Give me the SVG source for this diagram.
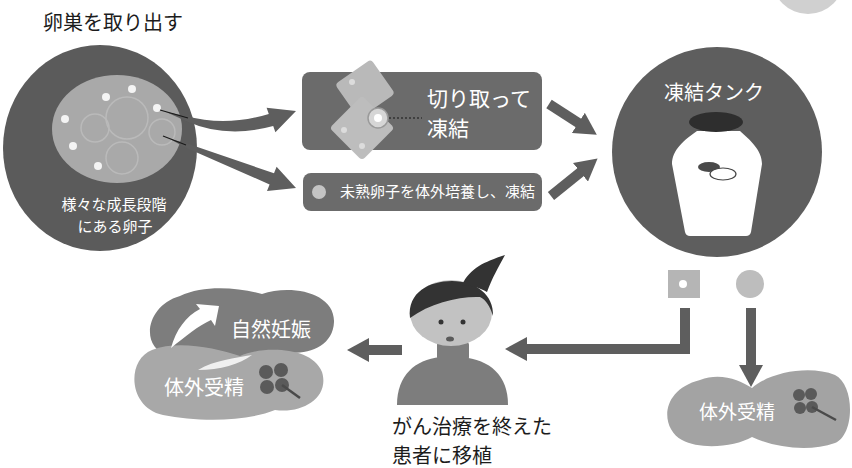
<svg xmlns="http://www.w3.org/2000/svg" width="852" height="468" viewBox="0 0 852 468">
  <style>
    .jp { font-family: "Noto Sans CJK JP", "Noto Sans CJK SC", "Noto Sans", sans-serif; }
    .dark { fill: #1c1c1c; }
    .white { fill: #ffffff; }
    .arrow { fill: none; stroke: #5e5e5e; stroke-width: 10; }
    .clover { fill: #5a5a5a; }
  </style>
  <defs>
    <marker id="head" markerUnits="userSpaceOnUse" markerWidth="22" markerHeight="24" viewBox="0 0 22 24" refX="2" refY="12" orient="auto">
      <path d="M0,0 L22,12 L0,24 Z" fill="#5e5e5e"/>
    </marker>
  </defs>

  <rect width="852" height="468" fill="#ffffff"/>

  <!-- corner decoration -->
  <circle cx="808" cy="-22" r="36" fill="#d0d0d0"/>

  <!-- ovary -->
  <g id="ovary">
    <text class="jp dark" x="43" y="30" font-size="20">卵巣を取り出す</text>
    <ellipse cx="100" cy="148" rx="97" ry="103" fill="#5b5b5b"/>
    <ellipse cx="117" cy="129" rx="65" ry="54" fill="#a9a9a9"/>
    <g fill="none" stroke="#bababa" stroke-width="1.5">
      <circle cx="127" cy="118" r="21"/>
      <circle cx="95" cy="128" r="14"/>
      <circle cx="122" cy="158" r="16"/>
      <circle cx="162" cy="132" r="13"/>
    </g>
    <g fill="#f4f4f4">
      <circle cx="132" cy="89" r="4"/>
      <circle cx="106" cy="97" r="4"/>
      <circle cx="157" cy="108" r="4"/>
      <circle cx="65" cy="119" r="4"/>
      <circle cx="73" cy="146" r="4"/>
      <circle cx="98" cy="166" r="4"/>
    </g>
    <text class="jp white" x="114" y="210" font-size="15" text-anchor="middle">様々な成長段階</text>
    <text class="jp white" x="115" y="232" font-size="15" text-anchor="middle">にある卵子</text>
  </g>

  <!-- tissue slice route -->
  <g id="slice">
    <rect x="302" y="72" width="240" height="78" rx="8" fill="#6b6b6b"/>
    <rect x="343" y="68" width="44" height="42" rx="4" fill="#b9b9b9" transform="rotate(-35 365 89)"/>
    <rect x="339" y="105" width="46" height="46" rx="4" fill="#bdbdbd" transform="rotate(45 362 128)"/>
    <circle cx="352" cy="82" r="3" fill="#dcdcdc"/>
    <circle cx="344" cy="130" r="3" fill="#dcdcdc"/>
    <circle cx="362" cy="146" r="3" fill="#dcdcdc"/>
    <circle cx="378" cy="118" r="10" fill="#d6d6d6" stroke="#9a9a9a" stroke-width="1.5"/>
    <circle cx="378" cy="118" r="4" fill="#ffffff"/>
    <line x1="389" y1="118" x2="422" y2="118" stroke="#333" stroke-width="1.5" stroke-dasharray="2 2"/>
    <text class="jp white" x="427" y="106" font-size="21">切り取って</text>
    <text class="jp white" x="427" y="136" font-size="21">凍結</text>
  </g>

  <!-- immature egg route -->
  <g id="culture">
    <rect x="303" y="173" width="239" height="38" rx="8" fill="#6b6b6b"/>
    <circle cx="319" cy="192" r="7" fill="#c4c4c4"/>
    <text class="jp white" x="340" y="197" font-size="15">未熟卵子を体外培養し、凍結</text>
  </g>

  <!-- freezing tank -->
  <g id="tank">
    <circle cx="717" cy="152" r="105" fill="#5e5e5e"/>
    <text class="jp white" x="714" y="100" font-size="20" text-anchor="middle">凍結タンク</text>
    <path d="M697,131 C684,140 672,150 672,164 L685,232 Q686,236 690,236 L746,236 Q750,236 751,232 L762,164 C762,150 750,140 740,131 Z" fill="#ffffff"/>
    <ellipse cx="716" cy="122" rx="27" ry="10" fill="#2e2e2e"/>
    <ellipse cx="709" cy="167" rx="11" ry="5" fill="#4a4a4a"/>
    <ellipse cx="723" cy="174" rx="13" ry="6" fill="#ffffff" stroke="#444" stroke-width="1.2"/>
  </g>

  <!-- stored samples -->
  <g id="samples">
    <rect x="668" y="270" width="32" height="28" fill="#b5b5b5"/>
    <circle cx="683" cy="284" r="4" fill="#ffffff"/>
    <circle cx="750" cy="284" r="14" fill="#bdbdbd"/>
  </g>

  <!-- patient -->
  <g id="patient">
    <path d="M397,405 C397,375 415,360 440,357 L462,357 C490,360 508,375 508,405 Z" fill="#7d7d7d"/>
    <rect x="437" y="342" width="32" height="18" rx="3" fill="#7d7d7d"/>
    <ellipse cx="451" cy="313" rx="41" ry="33" fill="#c2c2c2"/>
    <path d="M410,318 C407,292 430,281 452,281 C476,281 494,295 493,316 C490,306 486,300 480,297 C460,296 430,303 410,318 Z" fill="#333333"/>
    <path d="M462,285 C470,268 484,262 505,255 C498,268 492,278 487,292 C480,288 471,285 462,285 Z" fill="#333333"/>
    <circle cx="441" cy="322" r="2.5" fill="#333"/>
    <circle cx="463" cy="322" r="2.5" fill="#333"/>
    <ellipse cx="450" cy="339" rx="4" ry="2.5" fill="#5a5a5a"/>
    <text class="jp dark" x="392" y="434" font-size="20">がん治療を終えた</text>
    <text class="jp dark" x="392" y="463" font-size="20">患者に移植</text>
  </g>

  <!-- outcomes after transplant -->
  <g id="outcome-left">
    <path d="M180,296 C205,284 240,288 262,294 C290,284 335,292 334,322 C333,348 305,356 280,352 C250,360 200,362 168,355 C140,348 145,306 180,296 Z" fill="#7d7d7d"/>
    <path d="M152,350 C178,340 215,348 240,356 C262,346 312,346 322,372 C330,398 302,414 275,410 C245,422 198,422 163,415 C128,408 126,360 152,350 Z" fill="#a8a8a8"/>
    <path d="M171,348 C176,330 186,316 200,309 L196,304 L219,306 L215,326 L211,320 C198,326 186,336 171,348 Z" fill="#ffffff"/>
    <path d="M198,370 C215,360 235,358 252,355 C240,364 220,370 198,370 Z" fill="#f0f0f0"/>
    <text class="jp white" x="271" y="337" font-size="20" text-anchor="middle">自然妊娠</text>
    <text class="jp white" x="204" y="395" font-size="20" text-anchor="middle">体外受精</text>
    <circle class="clover" cx="266" cy="372" r="7"/>
    <circle class="clover" cx="281" cy="370" r="7"/>
    <circle class="clover" cx="267" cy="387" r="7"/>
    <circle class="clover" cx="282" cy="385" r="7"/>
    <line x1="282" y1="385" x2="300" y2="398" stroke="#4a4a4a" stroke-width="2.5"/>
  </g>

  <g id="outcome-right">
    <path d="M700,380 C720,372 740,380 752,388 C770,372 810,365 835,375 C855,385 855,435 835,443 C810,452 775,448 752,437 C735,447 700,450 682,440 C660,428 660,390 700,380 Z" fill="#a3a3a3"/>
    <text class="jp white" x="737" y="419" font-size="19" text-anchor="middle">体外受精</text>
    <circle class="clover" cx="799" cy="395" r="6"/>
    <circle class="clover" cx="811" cy="394" r="6"/>
    <circle class="clover" cx="800" cy="408" r="6"/>
    <circle class="clover" cx="812" cy="407" r="6"/>
    <line x1="812" y1="407" x2="836" y2="420" stroke="#4a4a4a" stroke-width="2.5"/>
  </g>

  <!-- connectors -->
  <g id="connectors">
    <path d="M166,112 L186,116 Q226,127 268.8,113.9 L266.6,107.8 L296,111 L275.4,132.2 L273.2,126.1 Q226,139 186,121 Z" fill="#5e5e5e"/>
    <line x1="160" y1="110" x2="188" y2="118" stroke="#1a1a1a" stroke-width="1.2"/>
    <path d="M170,139 L185.7,143.1 L274,173.2 L276.6,166.7 L296,188 L267,190.9 L269.6,184.4 L184.3,146.9 Z" fill="#5e5e5e"/>
    <line x1="163" y1="136" x2="186" y2="145" stroke="#1a1a1a" stroke-width="1.2"/>
    <line class="arrow" x1="549" y1="104" x2="580" y2="124" marker-end="url(#head)"/>
    <line class="arrow" x1="551" y1="196" x2="582" y2="171" marker-end="url(#head)"/>
    <path class="arrow" d="M685,308 V349 H525" stroke-linejoin="miter" marker-end="url(#head)"/>
    <line class="arrow" x1="751" y1="308" x2="751" y2="367" marker-end="url(#head)"/>
    <line class="arrow" x1="402" y1="350" x2="367" y2="350" marker-end="url(#head)"/>
  </g>
</svg>
